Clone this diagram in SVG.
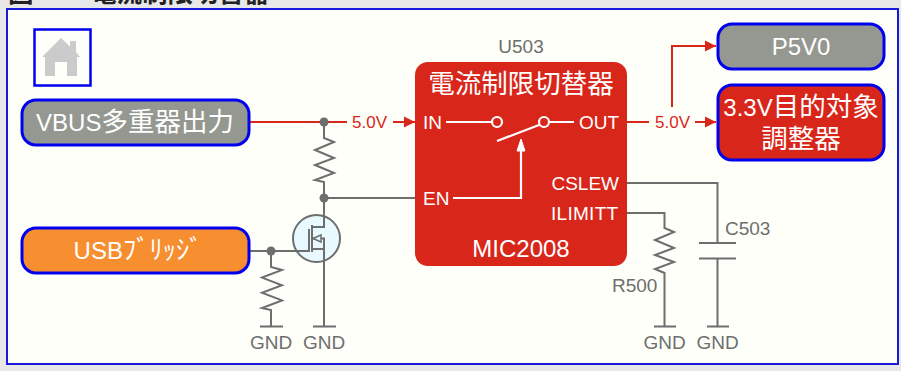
<svg xmlns="http://www.w3.org/2000/svg" width="901" height="371" viewBox="0 0 901 371">
<style>
text{font-family:"Liberation Sans","Noto Sans CJK JP",sans-serif}
.nb{stroke:#0000ee;stroke-width:3}
.w{fill:#fff;font-size:19px}
.wt{fill:#fff;font-size:24px;text-anchor:middle}
.cj{font-size:26.5px}
.g{fill:#6d6e6e;font-size:19px}
.r{fill:#d9261a;font-size:17px}
.gl{fill:none;stroke:#6d6e6e;stroke-width:2}
.rl{fill:none;stroke:#d9261a;stroke-width:2}
.wl{fill:none;stroke:#fff;stroke-width:2.2}
</style>
<defs>
<marker id="ar" markerUnits="userSpaceOnUse" markerWidth="12" markerHeight="12" refX="11" refY="6" orient="auto"><path d="M0 0.5L11 6L0 11.500Z" fill="#d9261a"/></marker>
</defs>
<rect width="901" height="371" fill="#e8e8e8"/>
<text x="8" y="2" font-size="25.500" font-weight="bold" fill="#222">図</text>
<text x="91" y="2" font-size="25.500" font-weight="bold" fill="#222">電流制限切替器</text>
<rect x="7" y="9" width="891" height="355" fill="#fffff9" stroke="#1a1add" stroke-width="2"/>
<g id="home"><rect x="34.500" y="29.500" width="56" height="56" fill="#fffff9" stroke="#0000ee" stroke-width="2.500"/>
<path d="M42 57L61 38L70 46.500V41H76V52L80 57H77V76H67V62H55V76H45V57Z" fill="#cbcbcb"/></g>
<g id="connectors">
<path class="rl" d="M249 122H347"/>
<path class="rl" d="M393 122H415" marker-end="url(#ar)"/>
<text class="r" x="352" y="128">5.0V</text>
<path class="gl" d="M324 122V138L334 142L315 150L334 158L315 165L334 173L315 180L324 182V227H312M324 227V217M324 238.500V326"/>
<path class="gl" d="M324 198H415"/>
<circle cx="324" cy="122" r="4.500" fill="#6d6e6e"/><circle cx="324" cy="198" r="4.500" fill="#6d6e6e"/>
<path class="gl" d="M249 251H309"/>
<circle cx="271" cy="251" r="4.500" fill="#6d6e6e"/>
<path class="gl" d="M271 251V267L282 270L262 277.600L282 285.200L262 292.800L282 300.400L262 308L271 310V326M260 326.500H283M313 326.500H336"/>
<path class="rl" d="M627 122H649"/>
<path class="rl" d="M695 122H716" marker-end="url(#ar)"/>
<text class="r" x="655" y="128">5.0V</text>
<path class="rl" d="M672 107V46H716" marker-end="url(#ar)"/>
<path class="gl" d="M627 183H717.500V243M699 243H736M699 258.500H736M717.500 258.500V326M707 326.500H729"/>
<path class="gl" d="M627 213H664.500V228L674 232L655 240L674 248L655 255L674 262L655 269L664.500 273V326M654 326.500H676"/>
</g>
<g id="mosfet"><circle cx="316.500" cy="238.500" r="23.500" fill="#e8faff" stroke="#6d6e6e" stroke-width="2"/>
<path class="gl" d="M287 251H309V229M312 225V252M312 227H324V215M312 238.500H324V262M312 249H324"/>
<path d="M313 238.500L321 235V242Z" fill="#e8faff" stroke="#6d6e6e" stroke-width="1.500"/></g>
<g id="vbus"><rect x="22" y="100" width="227" height="45" rx="14" fill="#959890" class="nb"/><text class="wt" x="135" y="131">VBUS<tspan class="cj">多重器出力</tspan></text></g>
<g id="usb"><rect x="22" y="228" width="227" height="45" rx="14" fill="#f78e2f" class="nb"/><text class="wt" x="138" y="259">USB<tspan class="cj">ﾌﾞﾘｯｼﾞ</tspan></text></g>
<g id="p5v0"><rect x="718" y="24" width="166" height="45" rx="14" fill="#959890" class="nb"/><text class="wt" x="801" y="55">P5V0</text></g>
<g id="reg"><rect x="718" y="85" width="166" height="75" rx="14" fill="#d9261a" class="nb"/><text class="wt" x="801" y="116">3.3V<tspan class="cj">目的対象</tspan></text><text class="wt cj" x="801" y="148">調整器</text></g>
<g id="u503">
<text class="g" x="521" y="53" text-anchor="middle">U503</text>
<rect x="415" y="62" width="212" height="204" rx="13" fill="#d9261a"/>
<text class="wt cj" x="521" y="93">電流制限切替器</text>
<text class="w" x="423" y="129">IN</text><text class="w" x="423" y="205">EN</text>
<text class="w" x="619" y="129" text-anchor="end">OUT</text>
<text class="w" x="619" y="190" text-anchor="end">CSLEW</text>
<text class="w" x="618.500" y="220" text-anchor="end" letter-spacing="0.300">ILIMITT</text>
<text x="521" y="257" fill="#fff" font-size="24" text-anchor="middle">MIC2008</text>
<path class="wl" d="M446 122H492M550 122H574M497 141L539 125M453 198H521V145"/>
<circle cx="497" cy="122" r="5" fill="#d9261a" stroke="#fff" stroke-width="2.200"/>
<circle cx="544" cy="122" r="5" fill="#d9261a" stroke="#fff" stroke-width="2.200"/>
<path d="M521 139L517 151H525Z" fill="#fff" stroke="#fff"/>
</g>
<g id="labels">
<text class="g" x="725" y="235">C503</text><text class="g" x="612" y="292">R500</text>
<text class="g" x="271" y="349" text-anchor="middle">GND</text><text class="g" x="324" y="349" text-anchor="middle">GND</text>
<text class="g" x="664.500" y="349" text-anchor="middle">GND</text><text class="g" x="717.500" y="349" text-anchor="middle">GND</text>
</g>
</svg>
